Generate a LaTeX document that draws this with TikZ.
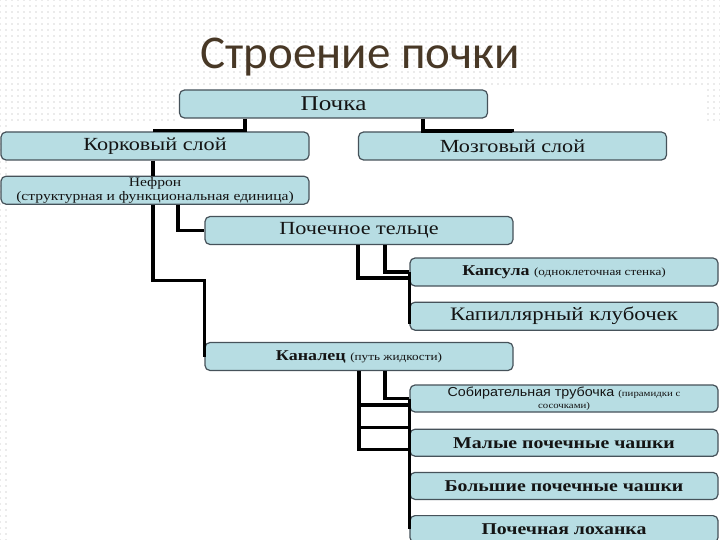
\documentclass[tikz,border=0pt]{standalone}
\usepackage{fontspec}
\setmainfont{Liberation Serif}
\newfontfamily\boxserif{Liberation Serif}[FakeStretch=1.2]
\newfontfamily\boxsans{Liberation Sans}[FakeStretch=1.1]
\newfontfamily\titlefont{Carlito}
\usepackage{xcolor}
\usetikzlibrary{positioning, patterns}

\definecolor{boxfill}{RGB}{183,221,227}
\definecolor{boxline}{RGB}{70,82,90}
\definecolor{titlebrown}{RGB}{72,56,38}
\definecolor{inktext}{RGB}{20,20,20}
\newcommand{\boxsize}[2]{\fontsize{#1}{#2}\selectfont}

\pgfdeclarepatternformonly{slidedots}{\pgfqpoint{-1pt}{-1pt}}{\pgfqpoint{1pt}{1pt}}{\pgfqpoint{6pt}{6pt}}{%
  \pgfpathcircle{\pgfpointorigin}{0.6pt}\pgfusepath{fill}}

\begin{document}
\begin{tikzpicture}[
    x = 1pt, y = -1pt,
    node distance = 15pt,
    box/.style = {
      rectangle, rounded corners = 5pt,
      draw = boxline, line width = 1.2pt, fill = boxfill,
      minimum width = 308pt, minimum height = 28pt, inner sep = 1pt,
      align = center, text = inktext, font = \boxserif\boxsize{18.5}{20}
    },
    bigbold/.style = {font = \boxserif\bfseries\boxsize{16.5}{18}, minimum height = 27pt},
    link/.style = {line width = 3.3pt, black}
  ]
    \useasboundingbox (0,0) rectangle (720,540);

    % ── Background ───────────────────────────────────────────────────────────
    \fill[white] (0,0) rectangle (720,540);
    \fill[pattern = slidedots, pattern color = gray!65] (0,0) rectangle (720,540);
    \fill[white] (10,124) rectangle (720,540);
    \fill[white] (175,86) rectangle (705,124);

    % ── Title ────────────────────────────────────────────────────────────────
    \node[font = \titlefont\boxsize{47}{50}, text = titlebrown, anchor = base]
      (title) at (360,69) {Строение почки};

    % ── Nodes ────────────────────────────────────────────────────────────────
    \node[box, font = \boxserif\boxsize{21}{22}] (kidney)  at (333.5,104) {Почка};
    \node[box]                        (cortex)    at (155,146)   {Корковый слой};
    \node[box]                        (medulla)   at (512.5,146) {Мозговый слой};
    \node[box, below = of cortex, font = \boxserif\boxsize{13}{14}]
      (nephron) {Нефрон\\(структурная и функциональная единица)};
    \node[box]                        (corpuscle) at (359,230.5) {Почечное тельце};
    \node[box, font = \boxserif\boxsize{15}{16}] (capsule) at (564,272)
      {\textbf{Капсула} {\boxsize{11}{12}(одноклеточная стенка)}};
    \node[box, below = of capsule, font = \boxserif\boxsize{19}{20}]
      (glomerulus) {Капиллярный клубочек};
    \node[box, font = \boxserif\boxsize{15}{16}] (tubule) at (359,356.5)
      {\textbf{Каналец} {\boxsize{11}{12}(путь жидкости)}};
    \node[box, minimum height = 27pt, font = \boxsans\boxsize{13}{12}] (collduct) at (564,398.5)
      {Собирательная трубочка {\boxserif\boxsize{9}{10}(пирамидки с}\\{\boxserif\boxsize{9}{10}сосочками)}};
    \node[box, bigbold, below = 16pt of collduct] (minorcal) {Малые почечные чашки};
    \node[box, bigbold, below = of minorcal]     (majorcal) {Большие почечные чашки};
    \node[box, bigbold, below = of majorcal]     (pelvis)   {Почечная лоханка};

    % ── Connectors ───────────────────────────────────────────────────────────
    \draw[link] ([xshift=-88.5pt]kidney.south) -- ++(0,12) -| (cortex.north);
    \draw[link] ([xshift=89.5pt]kidney.south) -- ++(0,12.5) -| (medulla.north);
    \draw[link] ([xshift=-2pt]cortex.south) -- ([xshift=-2pt]nephron.north);
    \draw[link] ([xshift=23pt]nephron.south) |- (corpuscle.west);
    \draw[link] ([xshift=-2pt]nephron.south) -- ++(0,76) -| (tubule.west);
    \draw[link] ([xshift=26pt]corpuscle.south) |- (capsule.west);
    \draw[link] ([xshift=-1pt]corpuscle.south) |- ([yshift=-6pt]capsule.west);
    \draw[link] (capsule.west) -- ([yshift=-8pt]glomerulus.west);
    \draw[link] ([xshift=26pt]tubule.south) |- (collduct.west);
    \draw[link] ([yshift=-6.5pt]collduct.west) -| (tubule.south);
    \draw[link] ([yshift=-6.5pt]minorcal.west) -| (tubule.south);
    \draw[link] ([yshift=15pt]minorcal.west) -- ++(-51,0);
    \draw[link] (collduct.west) -- (pelvis.west);
  \end{tikzpicture}
\end{document}
